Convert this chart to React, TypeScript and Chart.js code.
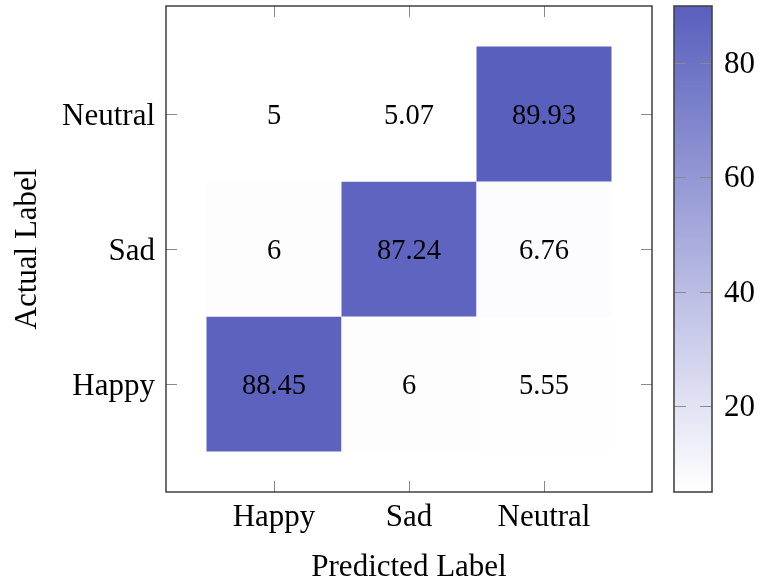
import React, { useEffect, useRef } from "react";
import { Chart, registerables } from "chart.js";

Chart.register(...registerables);

// Data
const predictedLabels = ["Happy", "Sad", "Neutral"]; // x categories
const actualLabels = ["Happy", "Sad", "Neutral"]; // y categories (bottom to top)
// matrix rows: actual label, columns: predicted label
const rowHappy = [88.45, 6, 5.55];
const rowSad = [6, 87.24, 6.76];
const rowNeutral = [5, 5.07, 89.93];
const matrixRows = [rowHappy, rowSad, rowNeutral];
const colorbarTicks = [20, 40, 60, 80];
const colorMin = 5;
const colorMax = 89.93;

const LOW = [255, 255, 255];
const HIGH = [89, 95, 189];

function cmap(v: number): string {
  let t = (v - colorMin) / (colorMax - colorMin);
  t = Math.max(0, Math.min(1, t));
  const c = LOW.map((l, i) => Math.round(l + (HIGH[i] - l) * t));
  return `rgb(${c[0]},${c[1]},${c[2]})`;
}

const FONT = "'Liberation Serif', 'Times New Roman', serif";

export default function App() {
  const ref = useRef<HTMLCanvasElement | null>(null);

  useEffect(() => {
    if (!ref.current) return;
    const points: any[] = [];
    matrixRows.forEach((row, yi) =>
      row.forEach((v, xi) => points.push({ x: xi, y: yi, v }))
    );

    const heatPlugin = {
      id: "heat",
      beforeDatasetsDraw(chart: any) {
        const { ctx, chartArea } = chart;
        const xs = chart.scales.x;
        const ys = chart.scales.y;
        ctx.save();
        ctx.beginPath();
        ctx.rect(chartArea.left, chartArea.top, chartArea.right - chartArea.left, chartArea.bottom - chartArea.top);
        ctx.clip();
        const data = chart.data.datasets[0].data as any[];
        data.forEach((p) => {
          const x0 = xs.getPixelForValue(p.x - 0.5);
          const x1 = xs.getPixelForValue(p.x + 0.5);
          const y0 = ys.getPixelForValue(p.y + 0.5);
          const y1 = ys.getPixelForValue(p.y - 0.5);
          ctx.fillStyle = cmap(p.v);
          ctx.fillRect(x0, y0, x1 - x0, y1 - y0);
        });
        ctx.fillStyle = "#000";
        ctx.font = `28.5px ${FONT}`;
        ctx.textAlign = "center";
        ctx.textBaseline = "middle";
        data.forEach((p) => {
          const cx = xs.getPixelForValue(p.x);
          const cy = ys.getPixelForValue(p.y);
          ctx.fillText(String(p.v), cx, cy + 3);
        });
        ctx.restore();
      },
      afterDraw(chart: any) {
        const { ctx, chartArea } = chart;
        const xs = chart.scales.x;
        const ys = chart.scales.y;
        const cs = chart.scales.c;
        const { left, right, top, bottom } = chartArea;
        ctx.save();
        // inward ticks
        ctx.strokeStyle = "#8a8a8a";
        ctx.lineWidth = 1;
        const tl = 11;
        xs.ticks.forEach((t: any) => {
          const px = Math.round(xs.getPixelForValue(t.value)) + 0.5;
          ctx.beginPath();
          ctx.moveTo(px, bottom);
          ctx.lineTo(px, bottom - tl);
          ctx.moveTo(px, top);
          ctx.lineTo(px, top + tl);
          ctx.stroke();
        });
        ys.ticks.forEach((t: any) => {
          const py = Math.round(ys.getPixelForValue(t.value)) + 0.5;
          ctx.beginPath();
          ctx.moveTo(left, py);
          ctx.lineTo(left + tl, py);
          ctx.moveTo(right, py);
          ctx.lineTo(right - tl, py);
          ctx.stroke();
        });
        // frame
        ctx.strokeStyle = "#222";
        ctx.lineWidth = 1.3;
        ctx.strokeRect(left, top, right - left, bottom - top);

        // colorbar
        const cbL = right + 22;
        const cbR = right + 60;
        const yTop = cs.getPixelForValue(colorMax);
        const yBot = cs.getPixelForValue(colorMin);
        const grad = ctx.createLinearGradient(0, yBot, 0, yTop);
        for (let i = 0; i <= 10; i++) {
          const v = colorMin + ((colorMax - colorMin) * i) / 10;
          grad.addColorStop(i / 10, cmap(v));
        }
        ctx.fillStyle = grad;
        ctx.fillRect(cbL, yTop, cbR - cbL, yBot - yTop);
        ctx.strokeStyle = "#8a8a8a";
        ctx.lineWidth = 1;
        colorbarTicks.forEach((v) => {
          const py = Math.round(cs.getPixelForValue(v)) + 0.5;
          ctx.beginPath();
          ctx.moveTo(cbL, py);
          ctx.lineTo(cbL + 12, py);
          ctx.moveTo(cbR, py);
          ctx.lineTo(cbR - 12, py);
          ctx.stroke();
        });
        ctx.strokeStyle = "#444";
        ctx.lineWidth = 1.6;
        ctx.strokeRect(cbL, yTop, cbR - cbL, yBot - yTop);
        ctx.restore();
      },
    };

    const chart = new Chart(ref.current, {
      type: "scatter",
      data: {
        datasets: [
          {
            data: points,
            pointRadius: 0,
            pointHoverRadius: 0,
          },
        ],
      },
      options: {
        animation: false,
        responsive: false,
        devicePixelRatio: 1,
        events: [],
        layout: { padding: { top: 6, left: 0, right: 0, bottom: 0 } },
        plugins: {
          legend: { display: false },
          tooltip: { enabled: false },
        },
        scales: {
          x: {
            type: "linear",
            min: -0.8,
            max: 2.8,
            grid: { display: false, drawTicks: false },
            border: { display: false },
            afterBuildTicks: (s: any) => {
              s.ticks = predictedLabels.map((_, i) => ({ value: i }));
            },
            afterFit: (s: any) => {
              s.height = 90;
              s.paddingLeft = 0;
              s.paddingRight = 0;
            },
            ticks: {
              color: "#000",
              padding: 7,
              maxRotation: 0,
              font: { family: FONT, size: 31 },
              callback: (v: any) => predictedLabels[v] ?? "",
            },
            title: {
              display: true,
              text: "Predicted Label",
              color: "#000",
              font: { family: FONT, size: 31, lineHeight: 0.9 },
              padding: { top: 0, bottom: 0 },
            },
          },
          y: {
            type: "linear",
            min: -0.8,
            max: 2.8,
            grid: { display: false, drawTicks: false },
            border: { display: false },
            afterBuildTicks: (s: any) => {
              s.ticks = actualLabels.map((_, i) => ({ value: i }));
            },
            afterFit: (s: any) => {
              s.width = 166;
              s.paddingTop = 0;
              s.paddingBottom = 0;
            },
            ticks: {
              color: "#000",
              padding: 11,
              labelOffset: 3,
              font: { family: FONT, size: 31 },
              callback: (v: any) => actualLabels[v] ?? "",
            },
            title: {
              display: true,
              text: "Actual Label",
              color: "#000",
              font: { family: FONT, size: 31, lineHeight: 1.1 },
              padding: { top: 11, bottom: 0 },
            },
          },
          c: {
            type: "linear",
            position: "right",
            min: colorMin,
            max: colorMax,
            grid: { display: false, drawTicks: false },
            border: { display: false },
            afterBuildTicks: (s: any) => {
              s.ticks = colorbarTicks.map((v) => ({ value: v }));
            },
            afterFit: (s: any) => {
              s.width = 108;
              s.paddingTop = 0;
              s.paddingBottom = 0;
            },
            ticks: {
              color: "#000",
              padding: 72,
              labelOffset: 2,
              font: { family: FONT, size: 31 },
            },
          },
        },
      },
      plugins: [heatPlugin],
    });
    return () => chart.destroy();
  }, []);

  return (
    <div style={{ position: "fixed", left: 0, top: 0, width: 760, height: 582, background: "#fff" }}>
      <canvas ref={ref} width={760} height={582} style={{ width: 760, height: 582, display: "block" }} />
    </div>
  );
}
